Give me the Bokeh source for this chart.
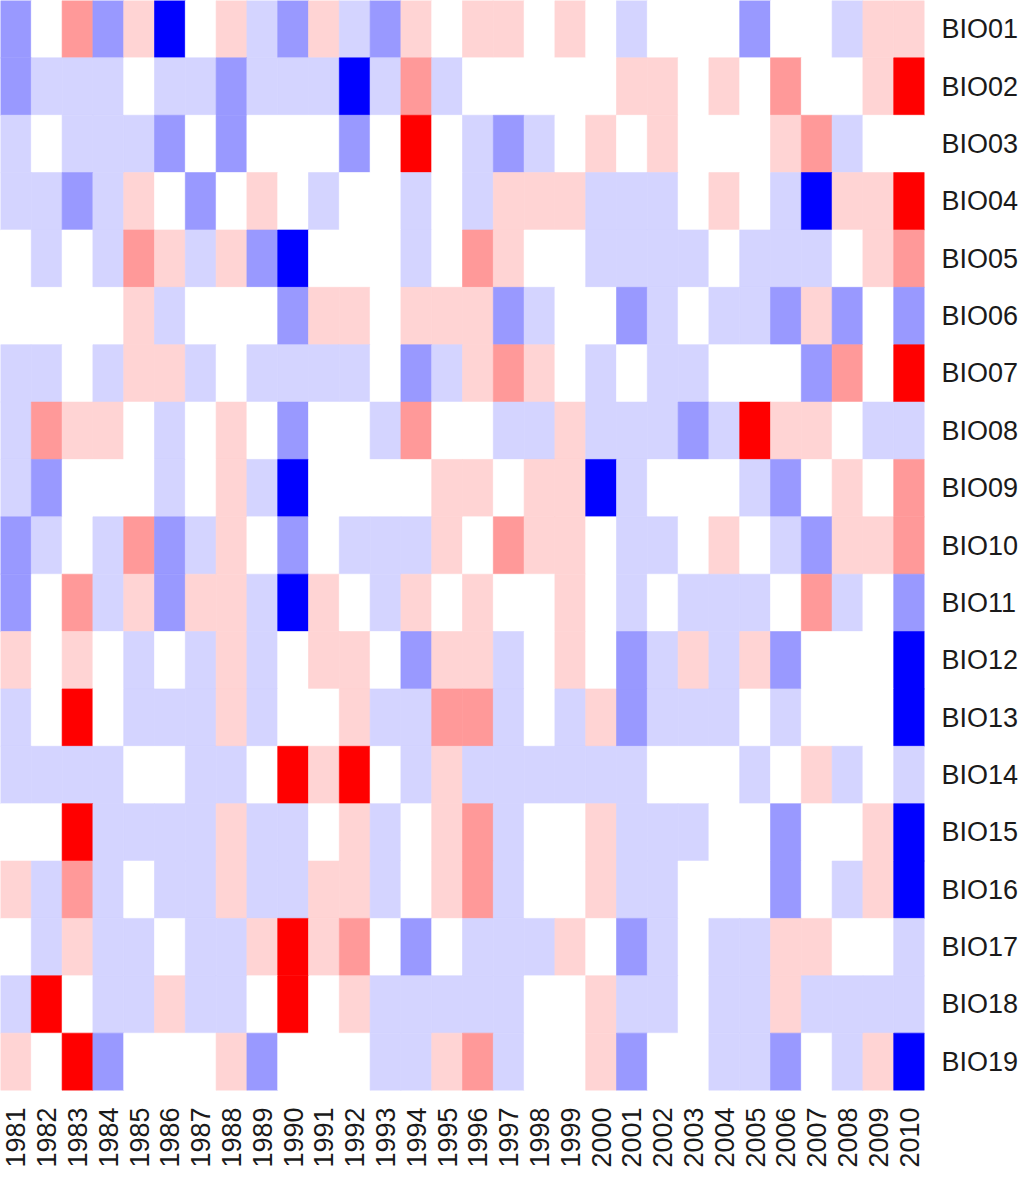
import math
from bokeh.plotting import figure
from bokeh.models import ColumnDataSource, FactorRange
from bokeh.embed import file_html
from bokeh.resources import INLINE

# ---- data ----
years = ["1981", "1982", "1983", "1984", "1985", "1986", "1987", "1988", "1989", "1990",
         "1991", "1992", "1993", "1994", "1995", "1996", "1997", "1998", "1999", "2000",
         "2001", "2002", "2003", "2004", "2005", "2006", "2007", "2008", "2009", "2010"]

bio_names = ["BIO01", "BIO02", "BIO03", "BIO04", "BIO05", "BIO06", "BIO07", "BIO08", "BIO09", "BIO10",
             "BIO11", "BIO12", "BIO13", "BIO14", "BIO15", "BIO16", "BIO17", "BIO18", "BIO19"]

# anomaly class per year (-3 strong negative ... +3 strong positive)
BIO01 = [-2, 0, 2, -2, 1, -3, 0, 1, -1, -2, 1, -1, -2, 1, 0, 1, 1, 0, 1, 0, -1, 0, 0, 0, -2, 0, 0, -1, 1, 1]
BIO02 = [-2, -1, -1, -1, 0, -1, -1, -2, -1, -1, -1, -3, -1, 2, -1, 0, 0, 0, 0, 0, 1, 1, 0, 1, 0, 2, 0, 0, 1, 3]
BIO03 = [-1, 0, -1, -1, -1, -2, 0, -2, 0, 0, 0, -2, 0, 3, 0, -1, -2, -1, 0, 1, 0, 1, 0, 0, 0, 1, 2, -1, 0, 0]
BIO04 = [-1, -1, -2, -1, 1, 0, -2, 0, 1, 0, -1, 0, 0, -1, 0, -1, 1, 1, 1, -1, -1, -1, 0, 1, 0, -1, -3, 1, 1, 3]
BIO05 = [0, -1, 0, -1, 2, 1, -1, 1, -2, -3, 0, 0, 0, -1, 0, 2, 1, 0, 0, -1, -1, -1, -1, 0, -1, -1, -1, 0, 1, 2]
BIO06 = [0, 0, 0, 0, 1, -1, 0, 0, 0, -2, 1, 1, 0, 1, 1, 1, -2, -1, 0, 0, -2, -1, 0, -1, -1, -2, 1, -2, 0, -2]
BIO07 = [-1, -1, 0, -1, 1, 1, -1, 0, -1, -1, -1, -1, 0, -2, -1, 1, 2, 1, 0, -1, 0, -1, -1, 0, 0, 0, -2, 2, 0, 3]
BIO08 = [-1, 2, 1, 1, 0, -1, 0, 1, 0, -2, 0, 0, -1, 2, 0, 0, -1, -1, 1, -1, -1, -1, -2, -1, 3, 1, 1, 0, -1, -1]
BIO09 = [-1, -2, 0, 0, 0, -1, 0, 1, -1, -3, 0, 0, 0, 0, 1, 1, 0, 1, 1, -3, -1, 0, 0, 0, -1, -2, 0, 1, 0, 2]
BIO10 = [-2, -1, 0, -1, 2, -2, -1, 1, 0, -2, 0, -1, -1, -1, 1, 0, 2, 1, 1, 0, -1, -1, 0, 1, 0, -1, -2, 1, 1, 2]
BIO11 = [-2, 0, 2, -1, 1, -2, 1, 1, -1, -3, 1, 0, -1, 1, 0, 1, 0, 0, 1, 0, -1, 0, -1, -1, -1, 0, 2, -1, 0, -2]
BIO12 = [1, 0, 1, 0, -1, 0, -1, 1, -1, 0, 1, 1, 0, -2, 1, 1, -1, 0, 1, 0, -2, -1, 1, -1, 1, -2, 0, 0, 0, -3]
BIO13 = [-1, 0, 3, 0, -1, -1, -1, 1, -1, 0, 0, 1, -1, -1, 2, 2, -1, 0, -1, 1, -2, -1, -1, -1, 0, -1, 0, 0, 0, -3]
BIO14 = [-1, -1, -1, -1, 0, 0, -1, -1, 0, 3, 1, 3, 0, -1, 1, -1, -1, -1, -1, -1, -1, 0, 0, 0, -1, 0, 1, -1, 0, -1]
BIO15 = [0, 0, 3, -1, -1, -1, -1, 1, -1, -1, 0, 1, -1, 0, 1, 2, -1, 0, 0, 1, -1, -1, -1, 0, 0, -2, 0, 0, 1, -3]
BIO16 = [1, -1, 2, -1, 0, -1, -1, 1, -1, -1, 1, 1, -1, 0, 1, 2, -1, 0, 0, 1, -1, -1, 0, 0, 0, -2, 0, -1, 1, -3]
BIO17 = [0, -1, 1, -1, -1, 0, -1, -1, 1, 3, 1, 2, 0, -2, 0, -1, -1, -1, 1, 0, -2, -1, 0, -1, -1, 1, 1, 0, 0, -1]
BIO18 = [-1, 3, 0, -1, -1, 1, -1, -1, 0, 3, 0, 1, -1, -1, -1, -1, -1, 0, 0, 1, -1, -1, 0, -1, -1, 1, -1, -1, -1, -1]
BIO19 = [1, 0, 3, -2, 0, 0, 0, 1, -2, 0, 0, 0, -1, -1, 1, 2, -1, 0, 0, 1, -2, 0, 0, -1, -1, -2, 0, -1, 1, -3]

levels = [-3, -2, -1, 0, 1, 2, 3]
palette = ["#0000FF", "#9999FF", "#D4D4FF", "#FFFFFF", "#FFD4D4", "#FF9999", "#FF0000"]

rows = [BIO01, BIO02, BIO03, BIO04, BIO05, BIO06, BIO07, BIO08, BIO09, BIO10,
        BIO11, BIO12, BIO13, BIO14, BIO15, BIO16, BIO17, BIO18, BIO19]

color_of = dict(zip(levels, palette))
xs, ys, cs, vs = [], [], [], []
for name, vals in zip(bio_names, rows):
    for yr, v in zip(years, vals):
        xs.append(yr)
        ys.append(name)
        vs.append(v)
        cs.append(color_of[v])

source = ColumnDataSource(dict(year=xs, bio=ys, value=vs, color=cs))

p = figure(
    x_range=FactorRange(*years),
    y_range=FactorRange(*reversed(bio_names)),
    frame_width=924, frame_height=1090,
    y_axis_location="right",
    output_backend="svg", toolbar_location=None,
    min_border=0, min_border_left=0, min_border_top=0,
    min_border_right=0, min_border_bottom=0,
    outline_line_color=None, background_fill_color="white",
    border_fill_color="white",
)

p.rect(x="year", y="bio", width=1, height=1, source=source,
       fill_color="color", line_color="color", line_width=0.6)

p.xgrid.visible = False
p.ygrid.visible = False

for ax in (p.xaxis[0], p.yaxis[0]):
    ax.axis_line_color = None
    ax.major_tick_line_color = None
    ax.minor_tick_line_color = None
    ax.major_tick_in = 0
    ax.major_tick_out = 0
    ax.major_label_text_font = "Liberation Sans"
    ax.major_label_text_font_size = "27px"
    ax.major_label_text_color = "#1a1a1a"
    ax.major_label_standoff = 17

p.xaxis[0].major_label_orientation = math.pi / 2

open("out.html", "w").write(file_html(p, INLINE))
